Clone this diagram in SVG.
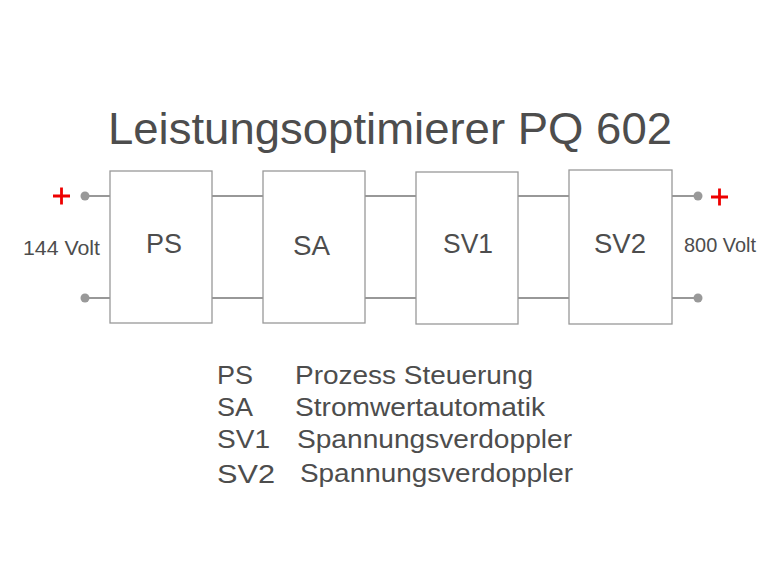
<svg xmlns="http://www.w3.org/2000/svg" width="783" height="587" viewBox="0 0 783 587">
<style>
text{font-family:"Liberation Sans",Arial,sans-serif;fill:#4d4d4d}
.box{fill:#fff;stroke:#999;stroke-width:1.3}
.wire{stroke:#333;stroke-width:1.2;fill:none}
.dot{fill:#999}
.plus{stroke:#e00;stroke-width:2.8}
.lbl{font-size:27px}
.leg{font-size:25.5px}
.volt{font-size:20px}
</style>
<rect width="783" height="587" fill="#fff"/>
<text x="108" y="144" font-size="45" textLength="564" lengthAdjust="spacingAndGlyphs">Leistungsoptimierer PQ 602</text>
<g id="connectors">
<path class="wire" d="M85 196H110M212 196H263M365 196H416M518 196H569M672 196H698"/>
<path class="wire" d="M85 298H110M212 298H263M365 298H416M518 298H569M672 298H698"/>
<circle class="dot" cx="85" cy="196" r="4.5"/>
<circle class="dot" cx="85" cy="298" r="4.5"/>
<circle class="dot" cx="698" cy="196" r="4.5"/>
<circle class="dot" cx="698" cy="298" r="4.5"/>
</g>
<g id="PS"><rect class="box" x="110" y="171" width="102" height="152"/><text class="lbl" x="146" y="253" textLength="36" lengthAdjust="spacingAndGlyphs">PS</text></g>
<g id="SA"><rect class="box" x="263" y="171" width="102" height="152"/><text class="lbl" x="293" y="255" textLength="37" lengthAdjust="spacingAndGlyphs">SA</text></g>
<g id="SV1"><rect class="box" x="416" y="172" width="102" height="152"/><text class="lbl" x="443" y="253" textLength="50" lengthAdjust="spacingAndGlyphs">SV1</text></g>
<g id="SV2"><rect class="box" x="569" y="170" width="103" height="154"/><text class="lbl" x="594" y="253" textLength="52" lengthAdjust="spacingAndGlyphs">SV2</text></g>
<g id="in">
<path class="plus" d="M53 196H70M61.5 187.5V204.5"/>
<text class="volt" x="23" y="255" textLength="77" lengthAdjust="spacingAndGlyphs">144 Volt</text>
</g>
<g id="out">
<path class="plus" d="M711 197H728M719.5 188.5V205.5"/>
<text class="volt" x="684" y="252" textLength="72" lengthAdjust="spacingAndGlyphs">800 Volt</text>
</g>
<g id="legend">
<text class="leg" x="217" y="384" textLength="36" lengthAdjust="spacingAndGlyphs">PS</text>
<text class="leg" x="295" y="384" textLength="238" lengthAdjust="spacingAndGlyphs">Prozess Steuerung</text>
<text class="leg" x="217" y="416" textLength="36" lengthAdjust="spacingAndGlyphs">SA</text>
<text class="leg" x="295" y="416" textLength="250" lengthAdjust="spacingAndGlyphs">Stromwertautomatik</text>
<text class="leg" x="217" y="448" textLength="53" lengthAdjust="spacingAndGlyphs">SV1</text>
<text class="leg" x="297" y="448" textLength="275" lengthAdjust="spacingAndGlyphs">Spannungsverdoppler</text>
<text class="leg" x="217" y="483" font-size="27" textLength="58" lengthAdjust="spacingAndGlyphs">SV2</text>
<text class="leg" x="300" y="482" font-size="26" textLength="273" lengthAdjust="spacingAndGlyphs">Spannungsverdoppler</text>
</g>
</svg>
